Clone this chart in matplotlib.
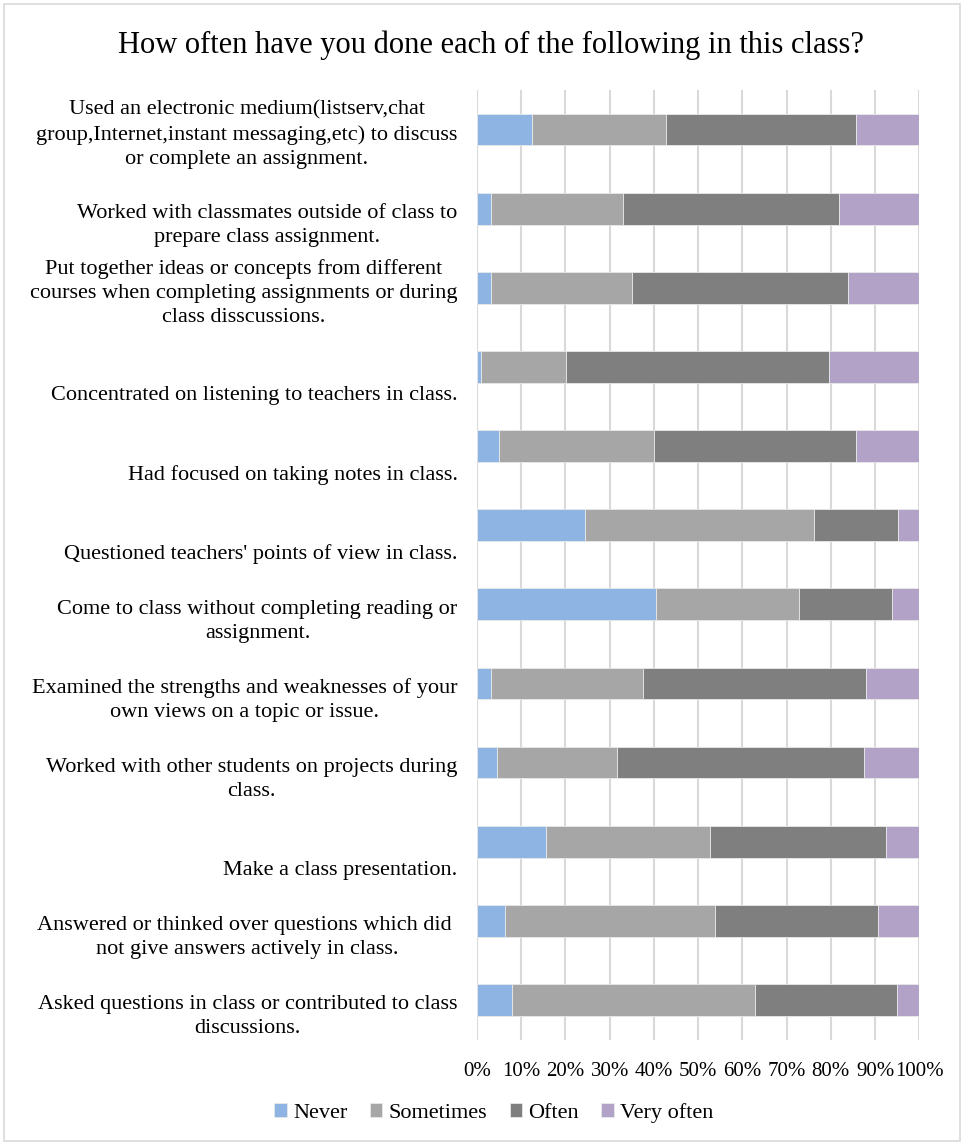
import matplotlib
matplotlib.use("Agg")
import matplotlib.pyplot as plt
from matplotlib.patches import Rectangle
import numpy as np

plt.rcParams['font.family'] = ['Liberation Serif', 'DejaVu Serif']

categories = [
    "Used an electronic medium(listserv,chat\ngroup,Internet,instant messaging,etc) to discuss\nor complete an assignment.",
    "\nWorked with classmates outside of class to\nprepare class assignment.",
    "Put together ideas or concepts from different\ncourses when completing assignments or during\nclass disscussions.",
    "\n\nConcentrated on listening to teachers in class.",
    "\n\nHad focused on taking notes in class.",
    "\n\nQuestioned teachers' points of view in class.",
    "\nCome to class without completing reading or\nassignment.",
    "\nExamined the strengths and weaknesses of your\nown views on a topic or issue.",
    "\nWorked with other students on projects during\nclass.",
    "\n\nMake a class presentation.",
    "\nAnswered or thinked over questions which did \nnot give answers actively in class.",
    "\nAsked questions in class or contributed to class\ndiscussions.",
]
series_names = ["Never", "Sometimes", "Often", "Very often"]
never      = [12.4,  3.2,  3.2,  1.0,  4.9, 24.4, 40.4,  3.2,  4.5, 15.6,  6.3,  8.0]
sometimes  = [30.3, 29.8, 31.9, 19.1, 35.1, 51.7, 32.5, 34.3, 27.1, 37.0, 47.5, 54.8]
often      = [43.0, 48.8, 48.8, 59.5, 45.7, 19.0, 20.9, 50.4, 56.0, 39.9, 36.8, 32.2]
very_often = [14.3, 18.2, 16.1, 20.4, 14.3,  4.9,  6.2, 12.1, 12.4,  7.5,  9.4,  5.0]
x_ticks = [0, 10, 20, 30, 40, 50, 60, 70, 80, 90, 100]
x_tick_labels = ["0%", "10%", "20%", "30%", "40%", "50%", "60%", "70%", "80%", "90%", "100%"]
title = "How often have you done each of the following in this class?"

colors = ["#8EB4E3", "#A6A6A6", "#7F7F7F", "#B3A2C7"]

fig = plt.figure(figsize=(9.64, 11.45), dpi=100)
ax = fig.add_axes([477 / 964, 1 - 1039.5 / 1145, (919.3 - 477) / 964, (1039.5 - 90) / 1145])

y = np.arange(len(categories))
data = [np.array(never), np.array(sometimes), np.array(often), np.array(very_often)]
left = np.zeros(len(categories))
for vals, name, c in zip(data, series_names, colors):
    ax.barh(y, vals, left=left, height=0.4, color=c, label=name,
            edgecolor="#E8E8E8", linewidth=0.6, zorder=3)
    left = left + vals

ax.set_xlim(0, 100)
ax.set_ylim(len(categories) - 0.5, -0.5)
ax.set_xticks(x_ticks)
ax.set_xticklabels(x_tick_labels, fontsize=15)
ax.set_yticks(y)
ax.set_yticklabels(categories, fontsize=16)
for lab in ax.get_yticklabels():
    lab.set_multialignment("center")
    lab.set_linespacing(1.35)
ax.tick_params(axis="y", length=0, pad=14)
ax.tick_params(axis="x", length=0, pad=16)
ax.grid(axis="x", color="#D9D9D9", linewidth=1.5, zorder=0)
ax.set_axisbelow(True)
for s in ax.spines.values():
    s.set_visible(False)

fig.text(491 / 964, 1 - 45 / 1145, title, ha="center", va="center", fontsize=22)

handles, labels = ax.get_legend_handles_labels()
fig.legend(handles, labels, loc="center", bbox_to_anchor=(494 / 964, 1 - 1113 / 1145),
           ncol=4, frameon=False, fontsize=16, handlelength=0.55, handleheight=0.55,
           handletextpad=0.3, columnspacing=1.0)

fig.patches.append(Rectangle((4 / 964, 4 / 1145), 956 / 964, 1137 / 1145,
                             transform=fig.transFigure, fill=False,
                             edgecolor="#D9D9D9", linewidth=1.2))

fig.savefig("out.png", dpi=100)
